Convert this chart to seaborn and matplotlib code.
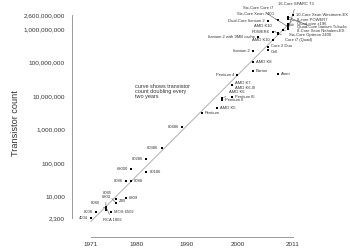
import numpy as np
import pandas as pd
import seaborn as sns
import matplotlib
matplotlib.use("Agg")
import matplotlib.pyplot as plt

# processors: name, year of introduction, transistor count
names = ["4004", "8008", "8080", "RCA 1802", "6800", "MOS 6502", "8085", "Z80",
         "6809", "8086", "8088", "68000", "80186", "80286", "80386", "80486",
         "Pentium", "AMD K5", "Pentium II", "AMD K6", "Pentium III", "AMD K6-III",
         "AMD K7", "Pentium 4", "Barton", "AMD K8", "Itanium 2", "Atom",
         "Itanium 2 with 9MB cache", "Cell", "Core 2 Duo", "AMD K10", "POWER6",
         "AMD K10 ", "Core i7 (Quad)", "Six-Core Opteron 2400", "Dual-Core Itanium 2",
         "Six-Core Xeon 7400", "Six-Core Core i7", "16-Core SPARC T3",
         "8-core POWER7", "Quad-core z196", "Quad-Core Itanium Tukwila",
         "8-Core Xeon Nehalem-EX", "10-Core Xeon Westmere-EX"]
years = [1971, 1972, 1974, 1974, 1974, 1975, 1976, 1976,
         1978, 1978, 1979, 1979, 1982, 1982, 1985, 1989,
         1993, 1996, 1997, 1997, 1999, 1999,
         1999, 2000, 2003, 2003, 2003, 2008,
         2004, 2006, 2006, 2007, 2007,
         2008, 2008, 2009, 2006,
         2008, 2010, 2010,
         2010, 2010, 2010,
         2010, 2011]
counts = [2300, 3500, 4500, 5000, 4100, 3510, 6500, 8500,
          9000, 29000, 29000, 68000, 55000, 134000, 275000, 1180000,
          3100000, 4300000, 7500000, 8800000, 9500000, 21300000,
          22000000, 42000000, 54300000, 105900000, 220000000, 47000000,
          592000000, 241000000, 291000000, 463000000, 789000000,
          758000000, 731000000, 904000000, 1700000000,
          1900000000, 1170000000, 1000000000,
          1200000000, 1400000000, 2000000000,
          2300000000, 2600000000]

# moore's law guide line
line_years = [1971, 2011]
line_counts = [1800, 1800 * 2 ** 20]

ytick_vals = [2300, 10000, 100000, 1000000, 10000000, 100000000, 1000000000, 2600000000]
xtick_vals = [1971, 1980, 1990, 2000, 2011]

# label placement: offset in pixels, alignment, leader line
R = (3, 0, "left", False)
L = (-3, 0, "right", False)
label_pos = {
    "4004": L, "8008": L, "8080": (-6, 5, "right", True),
    "RCA 1802": (6, -13, "center", True), "6800": (0, 13, "center", True),
    "MOS 6502": R, "8085": (-9, 10, "center", True), "Z80": (3, -2, "left", False),
    "6809": R, "8086": L, "8088": R, "68000": L, "80186": R, "80286": L,
    "80386": L, "80486": L, "Pentium": R, "AMD K5": R, "Pentium II": R,
    "AMD K6": (7, 6, "left", True), "Pentium III": R, "AMD K6-III": (3, -3, "left", False),
    "AMD K7": (3, 2, "left", False), "Pentium 4": L, "Barton": R, "AMD K8": R,
    "Itanium 2": L, "Atom": R, "Itanium 2 with 9MB cache": L, "Cell": (3, -2, "left", False),
    "Core 2 Duo": (3, 1, "left", False), "AMD K10": L, "POWER6": L,
    "AMD K10 ": (-6, 7, "right", True), "Core i7 (Quad)": (7, -6, "left", True),
    "Six-Core Opteron 2400": (6, -4.5, "left", True), "Dual-Core Itanium 2": L,
    "Six-Core Xeon 7400": (-4, 6, "right", True), "Six-Core Core i7": (-15, 19, "right", True),
    "16-Core SPARC T3": (8, 25, "center", True), "8-core POWER7": (9, 6, "left", True),
    "Quad-core z196": (9, 0, "left", True), "Quad-Core Itanium Tukwila": (9, -8.5, "left", True),
    "8-Core Xeon Nehalem-EX": (9, -14, "left", True), "10-Core Xeon Westmere-EX": (3, 0, "left", False),
}

df = pd.DataFrame({"name": names, "year": years, "count": counts})
line_df = pd.DataFrame({"year": line_years, "count": line_counts})

sns.set_style("white")
plt.rcParams["font.family"] = ["Liberation Sans", "DejaVu Sans"]

fig = plt.figure(figsize=(3.5, 2.5), dpi=100)
ax = fig.add_axes([72 / 350, 13 / 250, 1 - 72 / 350, 1 - 13 / 250])
ax.set_facecolor("none")

sns.lineplot(data=line_df, x="year", y="count", ax=ax, color="#b0b0b0", lw=0.7)
sns.scatterplot(data=df, x="year", y="count", ax=ax, color="black", marker="s",
                s=4.5, linewidth=0, zorder=3)

ax.set_yscale("log")
ax.set_xlim(1967.3, 2022.25)
ax.set_ylim(10 ** 2.798, 10 ** 9.865)

txt = "#333333"
for n, yr, c in zip(names, years, counts):
    dx, dy, ha, lead = label_pos[n]
    ax.annotate(n.strip(), (yr, c), xytext=(dx, dy), textcoords="offset pixels",
                ha=ha, va="center", fontsize=3.0, color=txt, annotation_clip=False,
                arrowprops=dict(arrowstyle="-", lw=0.35, color="#444444",
                                shrinkA=0, shrinkB=1) if lead else None)

ax.text(1979.75, 2.37e7, "curve shows transistor\ncount doubling every\ntwo years",
        ha="left", va="top", fontsize=4, color=txt, linespacing=1.0)

ax.set_yticks(ytick_vals)
ax.set_yticklabels([f"{v:,}" for v in ytick_vals])
ax.yaxis.set_minor_locator(matplotlib.ticker.NullLocator())
ax.set_xticks(xtick_vals)
ax.set_xticklabels([str(v) for v in xtick_vals])

for side in ["top", "right"]:
    ax.spines[side].set_visible(False)
for side in ["left", "bottom"]:
    ax.spines[side].set_color("#999999")
    ax.spines[side].set_linewidth(0.7)
ax.spines["left"].set_bounds(2300, 2600000000)
ax.spines["bottom"].set_bounds(1971, 2011)

ax.tick_params(axis="both", which="major", direction="out", length=2.5, width=0.6,
               color="#999999", labelcolor=txt, labelsize=4.6)
ax.tick_params(axis="y", pad=2.5)
ax.tick_params(axis="x", pad=1)

ax.set_xlabel("")
ax.set_ylabel("Transistor count", fontsize=6.6, color=txt)
ax.yaxis.set_label_coords(-52 / 278, 0.48)

plt.savefig("out.png", dpi=100)
